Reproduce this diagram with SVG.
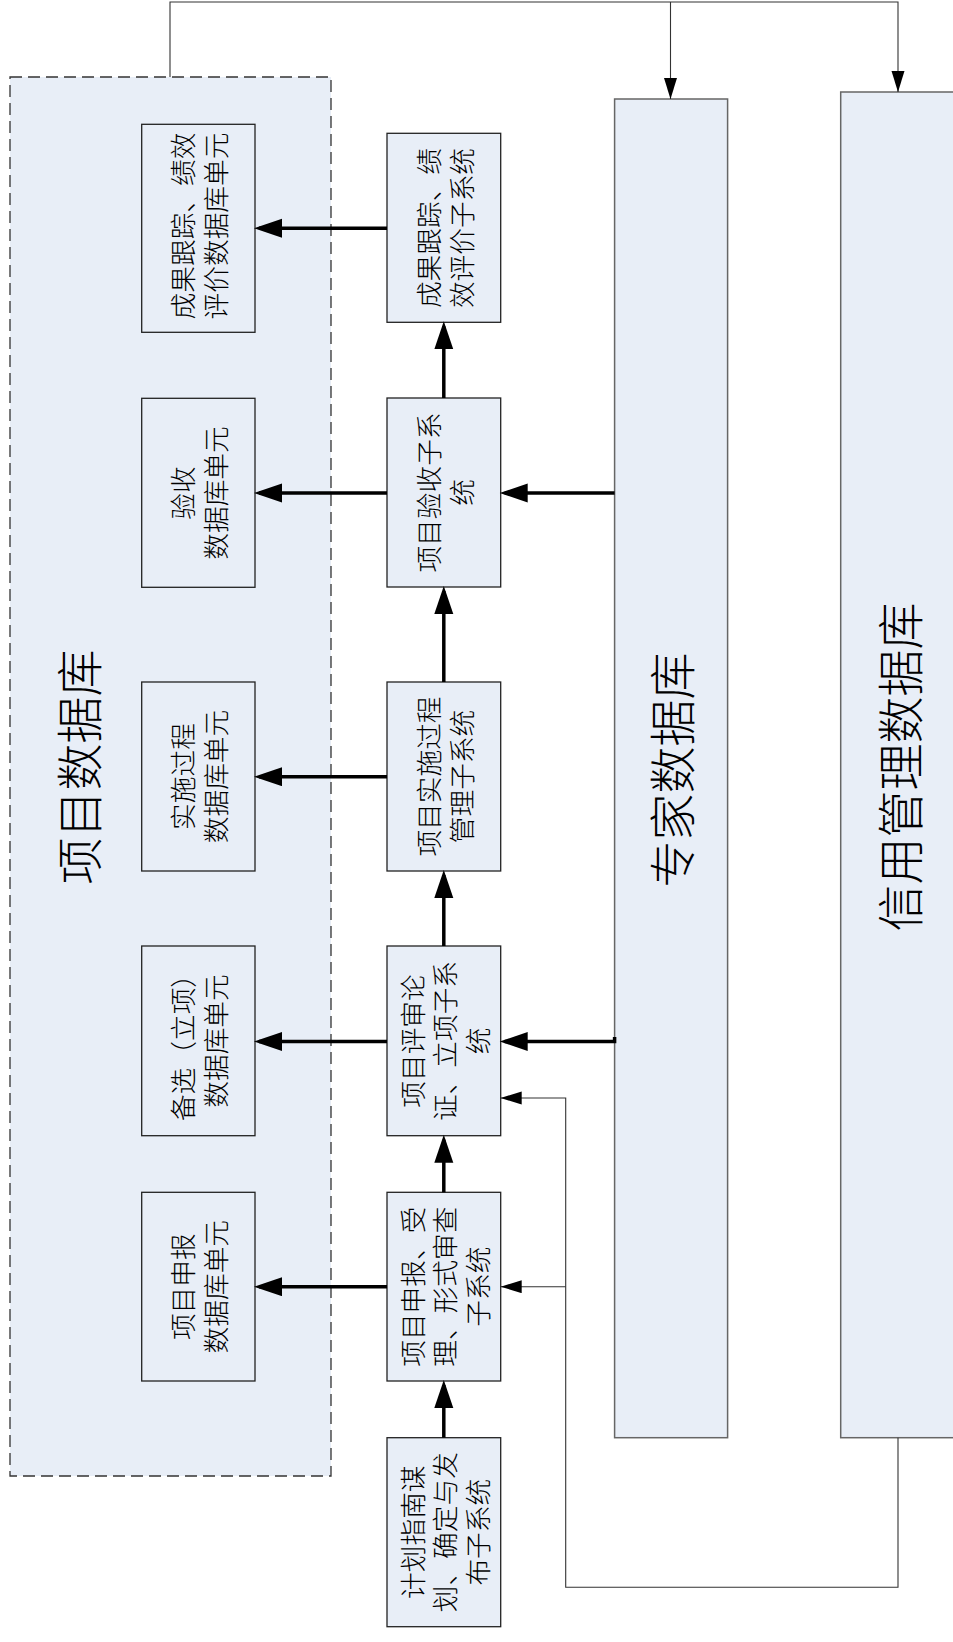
<svg xmlns="http://www.w3.org/2000/svg" width="953" height="1642" viewBox="0 0 953 1642">
<style>
.node{fill:#E8EEF7;stroke:#222;stroke-width:1.3}
.db{fill:#E8EEF7;stroke:#666;stroke-width:1.5}
.cont{fill:#E8EEF7;stroke:#333;stroke-width:1.3;stroke-dasharray:12,6}
.t{font-family:"Noto Sans CJK SC","Noto Sans CJK JP",sans-serif;font-size:26.7px;font-weight:300;fill:#000;text-anchor:middle;dominant-baseline:central}
.big{font-family:"Noto Sans CJK SC","Noto Sans CJK JP",sans-serif;font-size:47px;font-weight:300;fill:#000;text-anchor:middle;dominant-baseline:central}
.thick{fill:none;stroke:#000;stroke-width:3.5;marker-end:url(#ah)}
.thinA{fill:none;stroke:#333;stroke-width:1.1;marker-end:url(#as)}
</style>
<defs>
<marker id="ah" markerUnits="userSpaceOnUse" markerWidth="29" markerHeight="20" refX="23" refY="9.5" orient="auto">
<path d="M0,0 L28,9.5 L0,19 z" fill="#000"/>
</marker>
<marker id="as" markerUnits="userSpaceOnUse" markerWidth="22" markerHeight="14" refX="21" refY="6.5" orient="auto">
<path d="M0,0 L21,6.5 L0,13 z" fill="#000"/>
</marker>
</defs>

<g id="project-db">
<rect class="cont" x="10" y="77" width="321" height="1399"/>
<text class="big" transform="translate(76,767) rotate(-90)" x="0" y="0">项目数据库</text>
</g>

<g id="expert-db">
<rect class="db" x="614.6" y="99" width="113" height="1338.7"/>
<text class="big" transform="translate(669,770) rotate(-90)" x="0" y="0">专家数据库</text>
</g>

<g id="credit-db">
<rect class="db" x="840.7" y="92" width="114" height="1345.7"/>
<text class="big" transform="translate(897,767) rotate(-90)" x="0" y="0">信用管理数据库</text>
</g>

<g id="unit-result">
<rect class="node" x="141.7" y="124.3" width="113.3" height="208"/>
<g transform="translate(198.3,226) rotate(-90)">
<text class="t" x="0" y="-16.5">成果跟踪、绩效</text>
<text class="t" x="0" y="16.5">评价数据库单元</text>
</g>
</g>

<g id="unit-accept">
<rect class="node" x="141.7" y="398.3" width="113.3" height="189"/>
<g transform="translate(198.3,493) rotate(-90)">
<text class="t" x="0" y="-16.5">验收</text>
<text class="t" x="0" y="16.5">数据库单元</text>
</g>
</g>

<g id="unit-impl">
<rect class="node" x="141.7" y="682" width="113.3" height="189"/>
<g transform="translate(198.3,776.5) rotate(-90)">
<text class="t" x="0" y="-16.5">实施过程</text>
<text class="t" x="0" y="16.5">数据库单元</text>
</g>
</g>

<g id="unit-select">
<rect class="node" x="141.7" y="946" width="113.3" height="189.7"/>
<g transform="translate(198.3,1041) rotate(-90)">
<text class="t" x="0" y="-16.5">备选（立项）</text>
<text class="t" x="0" y="16.5">数据库单元</text>
</g>
</g>

<g id="unit-apply">
<rect class="node" x="141.7" y="1192.3" width="113.3" height="188.7"/>
<g transform="translate(198.3,1286.7) rotate(-90)">
<text class="t" x="0" y="-16.5">项目申报</text>
<text class="t" x="0" y="16.5">数据库单元</text>
</g>
</g>

<g id="sub-result">
<rect class="node" x="387" y="133.3" width="113.7" height="189"/>
<g transform="translate(443.8,228) rotate(-90)">
<text class="t" x="0" y="-16.5">成果跟踪、绩</text>
<text class="t" x="0" y="16.5">效评价子系统</text>
</g>
</g>

<g id="sub-accept">
<rect class="node" x="387" y="398" width="113.7" height="189"/>
<g transform="translate(443.8,492.5) rotate(-90)">
<text class="t" x="0" y="-16.5">项目验收子系</text>
<text class="t" x="0" y="16.5">统</text>
</g>
</g>

<g id="sub-impl">
<rect class="node" x="387" y="682" width="113.7" height="189"/>
<g transform="translate(443.8,776.5) rotate(-90)">
<text class="t" x="0" y="-16.5">项目实施过程</text>
<text class="t" x="0" y="16.5">管理子系统</text>
</g>
</g>

<g id="sub-review">
<rect class="node" x="387" y="946" width="113.7" height="189.7"/>
<g transform="translate(443.8,1041) rotate(-90)">
<text class="t" x="0" y="-32.5">项目评审论</text>
<text class="t" x="0" y="0">证、立项子系</text>
<text class="t" x="0" y="32.5">统</text>
</g>
</g>

<g id="sub-apply">
<rect class="node" x="387" y="1192.3" width="113.7" height="188.7"/>
<g transform="translate(443.8,1286.7) rotate(-90)">
<text class="t" x="0" y="-32.5">项目申报、受</text>
<text class="t" x="0" y="0">理、形式审查</text>
<text class="t" x="0" y="32.5">子系统</text>
</g>
</g>

<g id="sub-plan">
<rect class="node" x="387" y="1437.7" width="113.7" height="189"/>
<g transform="translate(443.8,1532.2) rotate(-90)">
<text class="t" x="0" y="-32.5">计划指南谋</text>
<text class="t" x="0" y="0">划、确定与发</text>
<text class="t" x="0" y="32.5">布子系统</text>
</g>
</g>

<g id="connectors">
<path class="thick" d="M387,228.3 L259,228.3"/>
<path class="thick" d="M387,493 L259,493"/>
<path class="thick" d="M614.6,493 L504.7,493"/>
<path class="thick" d="M387,776.7 L259,776.7"/>
<path class="thick" d="M387,1041.5 L259,1041.5"/>
<path class="thick" d="M614.6,1037 L614.6,1041.5 L504.7,1041.5"/>
<path class="thick" d="M387,1286.7 L259,1286.7"/>
<path class="thick" d="M443.8,1437.7 L443.8,1385"/>
<path class="thick" d="M443.8,1192.3 L443.8,1139.7"/>
<path class="thick" d="M443.8,946 L443.8,875"/>
<path class="thick" d="M443.8,682 L443.8,591"/>
<path class="thick" d="M443.8,398 L443.8,326.3"/>
<path class="thinA" d="M170,77 L170,2 L898,2 L898,92"/>
<path class="thinA" d="M670.5,2 L670.5,99"/>
<path class="thinA" d="M898,1437.7 L898,1587.3 L565.7,1587.3 L565.7,1098 L500.7,1098"/>
<path class="thinA" d="M565.7,1286.7 L500.7,1286.7"/>
</g>
</svg>
